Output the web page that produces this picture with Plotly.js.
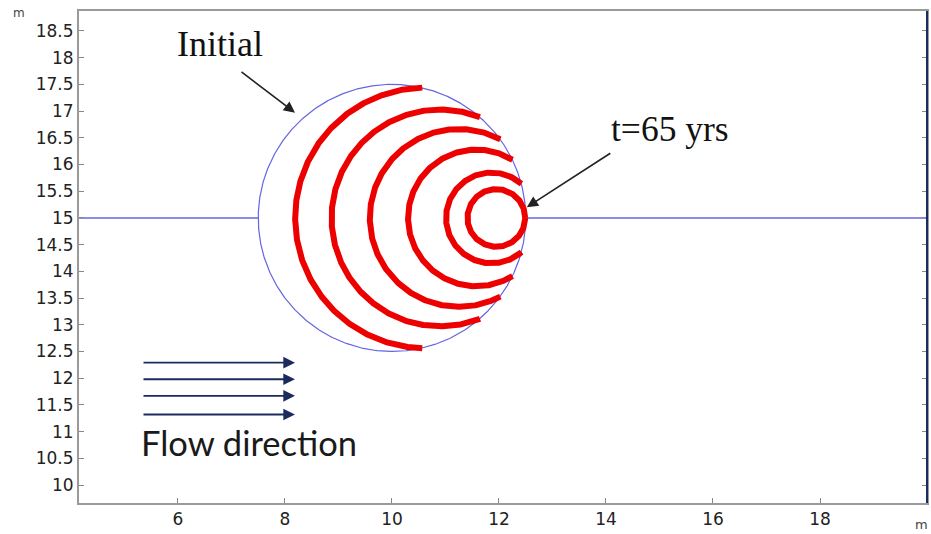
<!DOCTYPE html>
<html>
<head>
<meta charset="utf-8">
<script src="https://cdn.plot.ly/plotly-3.0.1.min.js"></script>
<style>html,body{margin:0;padding:0;background:#fff;}#chart{width:931px;height:534px;}</style>
</head>
<body>
<div id="chart"></div>
<script>
// ---- data ----
var initialCenterX = 10.0;
var initialCenterY = 15.0;
var initialRadius = 2.5;
// domain boundary line at y = 15 (left and right of the initial plume)
var boundaryX = [4.0, 7.5, null, 12.5, 20.0];
var boundaryY = [15, 15, null, 15, 15];
// plume fronts at successive times (outermost last), centre x and radius
var ringCenterX = [11.95, 11.86, 11.58, 11.25, 10.90, 10.63];
var ringCenterY = [15, 15, 15, 15, 15, 15];
var ringRadius  = [0.54, 0.85, 1.28, 1.665, 2.03, 2.44];
// axis ticks
var xTickVals = [6, 8, 10, 12, 14, 16, 18];
var yTickVals = [10, 10.5, 11, 11.5, 12, 12.5, 13, 13.5, 14, 14.5, 15, 15.5, 16, 16.5, 17, 17.5, 18, 18.5];
// flow direction arrows (y levels)
var flowArrowY = [12.29, 11.98, 11.67, 11.32];

// ---- geometry built from the data ----
function circlePts(cx, cy, r, n) {
  var xs = [], ys = [];
  for (var i = 0; i <= n; i++) {
    var t = 2 * Math.PI * i / n;
    xs.push(cx + r * Math.cos(t));
    ys.push(cy + r * Math.sin(t));
  }
  return {x: xs, y: ys};
}
function clippedRing(cx, cy, r) {
  var n = 1440, xs = [], ys = [];
  for (var i = 0; i <= n; i++) {
    var t = 2 * Math.PI * i / n;
    var px = cx + r * Math.cos(t), py = cy + r * Math.sin(t);
    var d = Math.hypot(px - initialCenterX, py - initialCenterY);
    if (d <= initialRadius + 0.005) { xs.push(px); ys.push(py); }
  }
  return {x: xs, y: ys};
}

var traces = [];
traces.push({x: boundaryX, y: boundaryY, mode: 'lines', type: 'scatter',
  line: {color: 'rgb(100,100,228)', width: 1.4}, hoverinfo: 'skip'});
var ic = circlePts(initialCenterX, initialCenterY, initialRadius, 720);
traces.push({x: ic.x, y: ic.y, mode: 'lines', type: 'scatter',
  line: {color: 'rgb(100,100,228)', width: 1.2}, hoverinfo: 'skip'});
for (var k = 0; k < ringRadius.length; k++) {
  var rp = clippedRing(ringCenterX[k], ringCenterY[k], ringRadius[k]);
  traces.push({x: rp.x, y: rp.y, mode: 'lines', type: 'scatter',
    line: {color: 'rgb(236,0,0)', width: 6}, hoverinfo: 'skip'});
}

var arrowColor = '#222222';
var navy = '#1c2b5e';
var annotations = [
  {x: 6.785, y: 18.25, xref: 'x', yref: 'y', text: 'Initial', showarrow: false,
   xanchor: 'center', yanchor: 'middle',
   font: {family: 'Liberation Serif, Times New Roman, serif', size: 36, color: '#111'}},
  {x: 8.187, y: 16.97, xref: 'x', yref: 'y', text: '', showarrow: true,
   ax: -55, ay: -42, arrowhead: 2, arrowsize: 1.4, arrowwidth: 1.6, arrowcolor: arrowColor, standoff: 0},
  {x: 15.2, y: 16.67, xref: 'x', yref: 'y', text: 't=65 yrs', showarrow: false,
   xanchor: 'center', yanchor: 'middle',
   font: {family: 'Liberation Serif, Times New Roman, serif', size: 35.5, color: '#111'}},
  {x: 12.52, y: 15.2, xref: 'x', yref: 'y', text: '', showarrow: true,
   ax: 85, ay: -55, arrowhead: 2, arrowsize: 1.4, arrowwidth: 1.6, arrowcolor: arrowColor, standoff: 0},
  {x: 7.336, y: 10.79, xref: 'x', yref: 'y', text: 'Flow direction', showarrow: false,
   xanchor: 'center', yanchor: 'middle',
   font: {family: 'Lato, Open Sans, sans-serif', size: 34.5, color: '#1a1a1a'}},
  {x: -0.0708, y: 0.996, xref: 'paper', yref: 'paper', text: 'm', showarrow: false,
   xanchor: 'center', yanchor: 'middle',
   font: {family: 'DejaVu Sans, sans-serif', size: 12, color: '#444'}},
  {x: 0.993, y: -0.043, xref: 'paper', yref: 'paper', text: 'm', showarrow: false,
   xanchor: 'center', yanchor: 'middle',
   font: {family: 'DejaVu Sans, sans-serif', size: 13, color: '#444'}}
];
for (var j = 0; j < flowArrowY.length; j++) {
  annotations.push({x: 8.187, y: flowArrowY[j], xref: 'x', yref: 'y', text: '', showarrow: true,
    ax: -153, ay: 0, arrowhead: 2, arrowsize: 1.3, arrowwidth: 1.8, arrowcolor: navy, standoff: 0});
}

var layout = {
  width: 931, height: 534,
  margin: {l: 79, r: 4, t: 11, b: 31},
  paper_bgcolor: '#ffffff', plot_bgcolor: '#ffffff',
  showlegend: false,
  xaxis: {range: [4.15, 20.0], tickvals: xTickVals, ticks: 'inside', ticklen: 5, tickcolor: '#888',
    showgrid: false, zeroline: false, showline: true, linecolor: '#9a9a9a', linewidth: 2, mirror: true,
    tickfont: {family: 'DejaVu Sans, sans-serif', size: 17, color: '#222'}},
  yaxis: {range: [9.663, 18.874], tickvals: yTickVals, ticks: 'inside', ticklen: 5, tickcolor: '#888',
    showgrid: false, zeroline: false, showline: true, linecolor: '#9a9a9a', linewidth: 2, mirror: 'ticks',
    tickfont: {family: 'DejaVu Sans, sans-serif', size: 17, color: '#222'}},
  annotations: annotations,
  shapes: [
    {type: 'line', xref: 'paper', yref: 'paper', x0: 1, x1: 1, y0: 0, y1: 1,
     line: {color: navy, width: 2}}
  ]
};
Plotly.newPlot('chart', traces, layout, {staticPlot: true, displayModeBar: false});
</script>
</body>
</html>
